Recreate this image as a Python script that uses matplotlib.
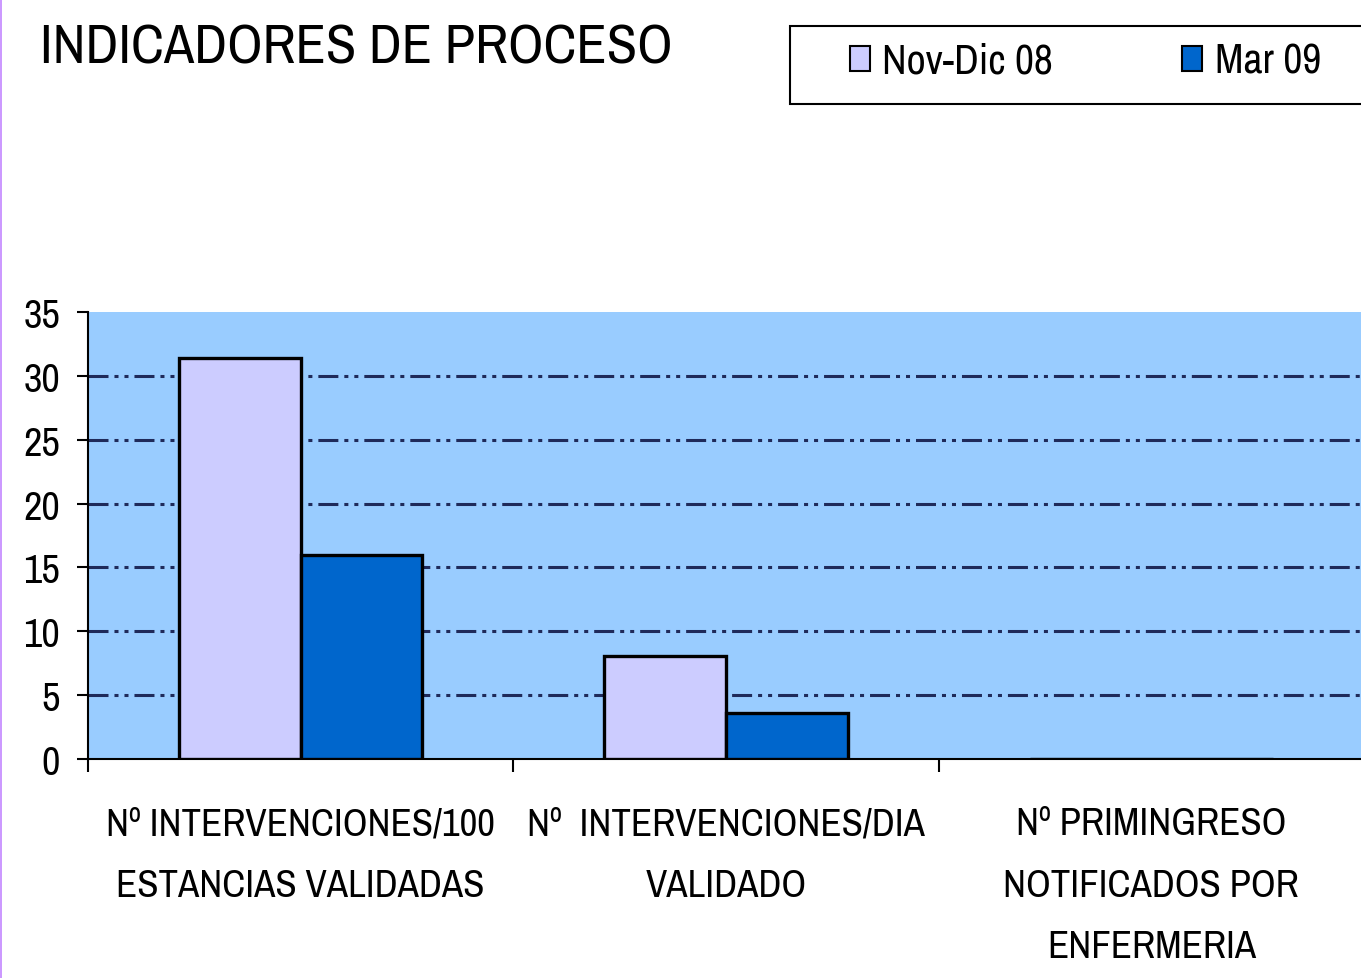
import numpy as np
import matplotlib.pyplot as plt
from matplotlib.patches import Rectangle, Patch

plt.rcParams['font.family'] = ['Archivo Narrow', 'Roboto Condensed', 'PT Sans Narrow',
                               'IBM Plex Sans Condensed', 'Liberation Sans']
plt.rcParams['lines.scale_dashes'] = False

# data
categories = ["Nº INTERVENCIONES/100\nESTANCIAS VALIDADAS",
              "Nº  INTERVENCIONES/DIA\nVALIDADO",
              "Nº PRIMINGRESO\nNOTIFICADOS POR\nENFERMERIA"]
series_names = ["Nov-Dic 08", "Mar 09"]
nov_dic_08 = [31.4, 8.1, 0]
mar_09 = [16.0, 3.6, 0]
y_ticks = [0, 5, 10, 15, 20, 25, 30, 35]

colors = ["#CCCCFF", "#0066CC"]

W, H = 1361, 979
fig = plt.figure(figsize=(W / 100, H / 100), dpi=100)
ax = fig.add_axes([88 / W, 1 - 760 / H, (1364 - 88) / W, (760 - 313) / H])
ax.set_facecolor("#99CCFF")

x = np.arange(len(categories))
bw = 1 / 3.5
ax.bar(x - bw / 2, nov_dic_08, bw, color=colors[0], edgecolor="black", linewidth=2.4, zorder=3)
ax.bar(x + bw / 2, mar_09, bw, color=colors[1], edgecolor="black", linewidth=2.4, zorder=3)

ax.set_xlim(-0.5, len(categories) - 0.5)
ax.set_ylim(0, 35)
ax.set_yticks(y_ticks)
ax.set_yticklabels([str(v) for v in y_ticks], fontsize=29)
ax.tick_params(axis="y", direction="out", length=8, width=1.5, pad=12)

for v in y_ticks[1:-1]:
    ax.axhline(v, color="#1F2A5A", linewidth=2.2,
               linestyle=(0, (14.4, 4.3, 2.9, 4.3, 2.9, 4.3)), zorder=1)

ax.set_xticks(np.arange(len(categories) + 1) - 0.5)
ax.set_xticklabels([])
ax.tick_params(axis="x", which="major", direction="out", length=9, width=1.5)
ax.set_xticks(x, minor=True)
ax.set_xticklabels(categories, minor=True, fontsize=28, linespacing=1.95, va="top")
ax.tick_params(axis="x", which="minor", length=0, pad=34)

for s in ["top", "right"]:
    ax.spines[s].set_visible(False)
ax.spines["left"].set_linewidth(1.5)
ax.spines["bottom"].set_linewidth(1.5)

fig.text(40 / W, 1 - 49 / H, "INDICADORES DE PROCESO", fontsize=40, va="center", ha="left")

# legend box
fig.patches.append(Rectangle((790 / W, 1 - 105 / H), (1370 - 790) / W, (105 - 27) / H,
                             transform=fig.transFigure, facecolor="white",
                             edgecolor="black", linewidth=1.5))
handles = [Patch(facecolor=c, edgecolor="black", linewidth=1.5) for c in colors]
fig.legend(handles, series_names, loc="center left", bbox_to_anchor=(850 / W, 1 - 62 / H),
           ncol=2, frameon=False, fontsize=30, handlelength=0.48, handleheight=0.55,
           handletextpad=0.3, columnspacing=3.1, borderpad=0, borderaxespad=0)

# thin lavender edge at left
fig.patches.append(Rectangle((0, 0), 2 / W, 1, transform=fig.transFigure,
                             facecolor="#CC99FF", edgecolor="none"))

fig.savefig("out.png", dpi=100)
